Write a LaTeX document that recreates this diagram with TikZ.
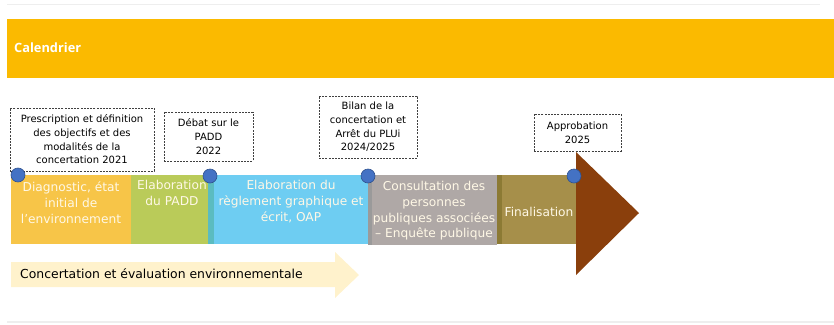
\documentclass[tikz,border=0pt]{standalone}
\usepackage{fontspec}
\setmainfont{DejaVu Sans}
\newfontfamily\bannerfont{Open Sans}
\definecolor{banner}{HTML}{FBBA00}
\definecolor{segA}{HTML}{F7C548}
\definecolor{segB}{HTML}{BACB59}
\definecolor{stripB}{HTML}{5BBCC0}
\definecolor{segC}{HTML}{6ECDF2}
\definecolor{stripD}{HTML}{9A9A9A}
\definecolor{segD}{HTML}{AFA8A6}
\definecolor{stripE}{HTML}{8C7A34}
\definecolor{segE}{HTML}{A68F4A}
\definecolor{brownhead}{HTML}{8A3F0C}
\definecolor{dotfill}{HTML}{4472C4}
\definecolor{dotline}{HTML}{2F528F}
\definecolor{creamarrow}{HTML}{FFF2CC}
\definecolor{segtext}{HTML}{FFF8E6}
\definecolor{faint}{HTML}{EEEEEE}
\begin{document}
\begin{tikzpicture}[x=1pt,y=-1pt,
  segbox/.style={rectangle,inner sep=0pt,anchor=north west,draw=none},
  seglabel/.style={anchor=north,align=center,text=segtext,font=\fontsize{12.2}{15.8}\selectfont,inner sep=0pt},
  datebox/.style={rectangle,draw=black!75,dashed,dash pattern=on 2pt off 1.2pt,line width=0.6pt,align=center,inner sep=0pt,font=\fontsize{10}{13.7}\selectfont,text=black},
  milestone/.style={circle,fill=dotfill,draw=dotline,line width=0.6pt,minimum size=14pt,inner sep=0pt}]
\useasboundingbox (0,0) rectangle (834,324);
% faint rules
\draw[faint,line width=1pt] (7,4) -- (820,4);
\draw[faint,line width=1.5pt] (7,322) -- (834,322);
% banner
\node[segbox,fill=banner,minimum width=827pt,minimum height=59pt] (banner) at (7,19) {};
\node[anchor=west,text=white,font=\bannerfont\bfseries\fontsize{12.8}{15}\selectfont,inner sep=0pt] (title) at (14,48) {Calendrier};
% segments
\node[segbox,fill=segA,minimum width=120pt,minimum height=69pt] (sA) at (11,175) {};
\node[segbox,fill=segB,minimum width=77pt,minimum height=69pt] (sB) at (131,175) {};
\node[segbox,fill=stripB,minimum width=6pt,minimum height=69pt] (tB) at (208,175) {};
\node[segbox,fill=segC,minimum width=154pt,minimum height=69pt] (sC) at (214,175) {};
\node[segbox,fill=stripD,minimum width=4pt,minimum height=70pt] (tD) at (368,175) {};
\node[segbox,fill=segD,minimum width=125pt,minimum height=70pt] (sD) at (372,175) {};
\node[segbox,fill=stripE,minimum width=5pt,minimum height=69pt] (tE) at (497,175) {};
\node[segbox,fill=segE,minimum width=74pt,minimum height=69pt] (sE) at (502,175) {};
\fill[brownhead] (576,152) -- (639,213) -- (576,275) -- cycle;
% segment labels
\node[seglabel] (lA) at (71,182) {Diagnostic, état\\initial de\\l’environnement};
\node[seglabel] (lB) at (172,180) {Elaboration\\du PADD};
\node[seglabel] (lC) at (291,180) {Elaboration du\\règlement graphique et\\écrit, OAP};
\node[seglabel] (lD) at (434,181) {Consultation des\\personnes\\publiques associées\\– Enquête publique};
\node[seglabel,anchor=center] (lE) at (539,212) {Finalisation};
% date boxes
\node[datebox,minimum width=144pt,minimum height=63pt] (dA) at (82,139.5) {Prescription et définition\\des objectifs et des\\modalités de la\\concertation 2021};
\node[datebox,minimum width=89pt,minimum height=49pt] (dB) at (208.5,136.5) {Débat sur le\\PADD\\2022};
\node[datebox,minimum width=98pt,minimum height=62pt] (dC) at (368,127) {Bilan de la\\concertation et\\Arrêt du PLUi\\2024/2025};
\node[datebox,minimum width=87pt,minimum height=37pt] (dD) at (577.5,132.5) {Approbation\\2025};
% milestones
\node[milestone] (mA) at (18,175) {};
\node[milestone] (mB) at (210,176) {};
\node[milestone] (mC) at (368,176) {};
\node[milestone] (mD) at (574,176) {};
% bottom arrow
\fill[creamarrow] (11,262) -- (335,262) -- (335,252) -- (359,275) -- (335,298) -- (335,287) -- (11,287) -- cycle;
\node[anchor=west,inner sep=0pt,font=\fontsize{12.4}{14}\selectfont,text=black] (concert) at (20,274) {Concertation et évaluation environnementale};
\end{tikzpicture}
\end{document}
